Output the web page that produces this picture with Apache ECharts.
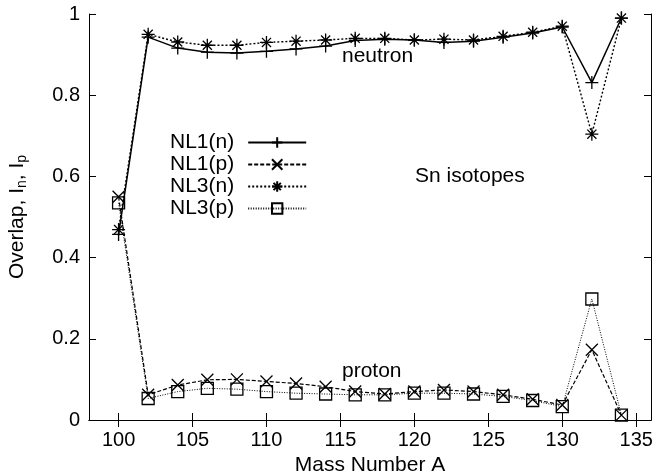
<!DOCTYPE html>
<html>
<head>
<meta charset="utf-8">
<script src="https://cdn.jsdelivr.net/npm/echarts@6/dist/echarts.min.js"></script>
<style>
html,body{margin:0;padding:0;background:#fff;}
#chart{width:658px;height:475px;}
</style>
</head>
<body>
<div id="chart"></div>
<script>
// Sn isotopes overlap data
var massNumbers = [100,102,104,106,108,110,112,114,116,118,120,122,124,126,128,130,132,134];
var nl1n = [0.457,0.943,0.916,0.906,0.904,0.908,0.914,0.921,0.935,0.938,0.936,0.930,0.933,0.943,0.953,0.968,0.831,0.990];
var nl1p = [0.550,0.062,0.086,0.099,0.100,0.095,0.090,0.082,0.070,0.064,0.070,0.074,0.070,0.062,0.051,0.037,0.173,0.012];
var nl3n = [0.469,0.950,0.931,0.923,0.923,0.930,0.933,0.936,0.940,0.940,0.936,0.938,0.936,0.945,0.955,0.970,0.704,0.990];
var nl3p = [0.535,0.053,0.070,0.078,0.076,0.070,0.066,0.064,0.062,0.062,0.066,0.066,0.064,0.058,0.048,0.033,0.298,0.012];
var xTicks = [100,105,110,115,120,125,130,135];

var FONT = 'Liberation Sans';

function pairs(ys){
	return massNumbers.map(function(x,i){ return [x, ys[i]]; });
}

var plusPath = 'path://M0,5L10,5M5,0L5,10';
var crossPath = 'path://M0,0L10,10M10,0L0,10';
var starPath = 'path://M0,5L10,5M5,0L5,10M1.5,1.5L8.5,8.5M8.5,1.5L1.5,8.5';
var squarePath = 'path://M0,0L10,0L10,10L0,10Z';

function makeSeries(name, ys, symbol, size, lineType, width, fill){
	return {
		name: name,
		type: 'line',
		data: pairs(ys),
		symbol: symbol,
		symbolSize: size,
		showAllSymbol: true,
		lineStyle: {color:'#000', width: width, type: lineType},
		itemStyle: {color: fill, borderColor:'#000', borderWidth: 1.3},
		emphasis: {disabled: true},
		animation: false
	};
}

var dom = document.getElementById('chart');
var myChart = echarts.init(dom);

var axisLine = {lineStyle:{color:'#000', width:1}};

var option = {
	backgroundColor:'#fff',
	animation:false,
	grid:{left:89, right:7, top:14, bottom:55, outerBoundsMode:'none', containLabel:false},
	legend:{
		orient:'vertical',
		left:165, top:127,
		align:'right',
		itemWidth:58, itemHeight:13,
		itemGap:1,
		textStyle:{color:'#000', fontSize:21, fontFamily:FONT, lineHeight:20, padding:[0,9,0,0]},
		data:['NL1(n)','NL1(p)','NL3(n)','NL3(p)']
	},
	xAxis:[
		{
			type:'value', min:98, max:136,
			name:'Mass Number A', nameLocation:'middle', nameGap:31,
			nameTextStyle:{color:'#000', fontSize:21, fontFamily:FONT},
			axisLine:axisLine,
			axisTick:{inside:true, length:7, customValues:xTicks, lineStyle:{color:'#000'}},
			axisLabel:{customValues:xTicks, margin:10, color:'#000', fontSize:20, fontFamily:FONT},
			splitLine:{show:false}
		},
		{
			type:'value', min:98, max:136, position:'top',
			axisLine:axisLine,
			axisTick:{inside:true, length:7, customValues:xTicks, lineStyle:{color:'#000'}},
			axisLabel:{show:false},
			splitLine:{show:false}
		}
	],
	yAxis:[
		{
			type:'value', min:0, max:1, interval:0.2,
			name:'Overlap, I{sub|n}, I{sub|p}', nameLocation:'middle', nameGap:60, nameRotate:90,
			nameTextStyle:{color:'#000', fontSize:21, fontFamily:FONT,
				rich:{sub:{fontSize:14, fontFamily:FONT, color:'#000', padding:[9,0,0,0]}}},
			axisLine:axisLine,
			axisTick:{inside:true, length:7, lineStyle:{color:'#000'}},
			axisLabel:{margin:9, color:'#000', fontSize:20, fontFamily:FONT},
			splitLine:{show:false}
		},
		{
			type:'value', min:0, max:1, interval:0.2, position:'right',
			axisLine:axisLine,
			axisTick:{inside:true, length:7, lineStyle:{color:'#000'}},
			axisLabel:{show:false},
			splitLine:{show:false}
		}
	],
	graphic:[
		{type:'text', left:342, top:46, style:{text:'neutron', fill:'#000', font:'21px "Liberation Sans"'}},
		{type:'text', left:415, top:166, style:{text:'Sn isotopes', fill:'#000', font:'21px "Liberation Sans"'}},
		{type:'text', left:342, top:361, style:{text:'proton', fill:'#000', font:'21px "Liberation Sans"'}}
	],
	series:[
		makeSeries('NL1(n)', nl1n, plusPath, 13, 'solid', 1.5, '#000'),
		makeSeries('NL1(p)', nl1p, crossPath, 12, [4,2], 1.2, '#000'),
		makeSeries('NL3(n)', nl3n, starPath, 13, [2,2], 1.4, '#000'),
		makeSeries('NL3(p)', nl3p, squarePath, 12, [1,1.5], 1, 'rgba(255,255,255,0)')
	]
};
myChart.setOption(option);
</script>
</body>
</html>
